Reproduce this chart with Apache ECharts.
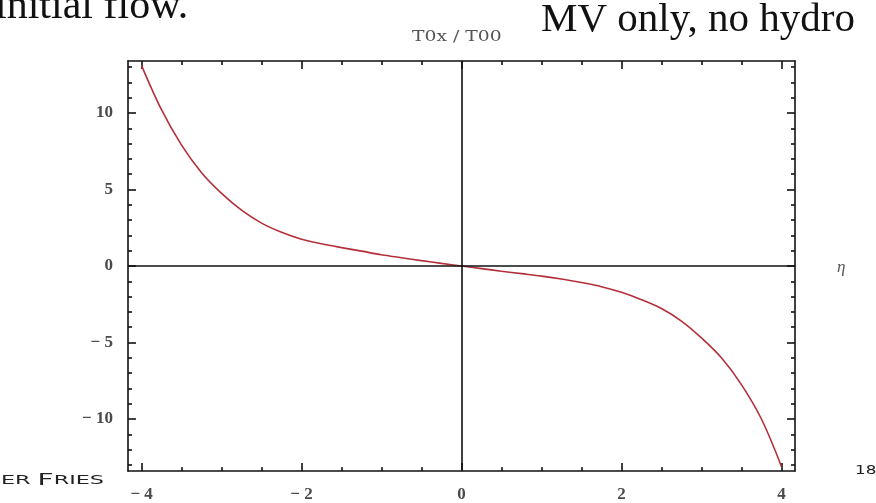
<!DOCTYPE html>
<html>
<head>
<meta charset="utf-8">
<script src="https://cdn.jsdelivr.net/npm/echarts@6/dist/echarts.min.js"></script>
<style>
html,body{margin:0;padding:0;background:#fff;}
#c{width:876px;height:503px;}
</style>
</head>
<body>
<div id="c"></div>
<script>
// Data
var eta = [-4,-3.75,-3.5,-3.25,-3,-2.75,-2.5,-2.25,-2,-1.75,-1.5,-1.25,-1,-0.75,-0.5,-0.25,0,
           0.25,0.5,0.75,1,1.25,1.5,1.75,2,2.25,2.5,2.75,3,3.25,3.5,3.75,4];
var ratio = [13.1,10.2,7.9,6.1,4.75,3.65,2.8,2.2,1.75,1.45,1.2,0.97,0.73,0.54,0.35,0.17,0,
             -0.17,-0.34,-0.5,-0.66,-0.85,-1.08,-1.35,-1.72,-2.2,-2.78,-3.6,-4.7,-6.0,-7.75,-10.0,-13.1];
var xMajorTicks = [-4,-2,0,2,4];
var xMinorTicks = [-3.5,-3,-2.5,-1.5,-1,-0.5,0.5,1,1.5,2.5,3,3.5];
var yMajorTicks = [-10,-5,0,5,10];
var yMinorTicks = [-13,-12,-11,-9,-8,-7,-6,-4,-3,-2,-1,1,2,3,4,6,7,8,9,11,12,13];

var XMIN = -4.17, XMAX = 4.17, YMIN = -13.4, YMAX = 13.4;
var serif = '"Liberation Serif", "DejaVu Serif", serif';
function fmt(v){ return v < 0 ? '\u2212 ' + Math.abs(v) : String(v); }

var pts = eta.map(function(e,i){ return [e, ratio[i]]; });

function xAxis(pos, ticks, len, showLabel, showLine){
  return {
    type:'value', position:pos, min:XMIN, max:XMAX,
    axisLine:{show:showLine, onZero:false, lineStyle:{color:'#111', width:1.6}},
    axisTick:{show:true, inside:true, length:len, customValues:ticks, lineStyle:{color:'#111', width:1.6}},
    axisLabel:{show:showLabel, customValues:ticks, formatter:fmt, margin:15,
      color:'#4a4a4a', fontFamily:serif, fontSize:17, fontWeight:'bold'},
    splitLine:{show:false}
  };
}
function yAxis(pos, ticks, len, showLabel, showLine){
  return {
    type:'value', position:pos, min:YMIN, max:YMAX,
    axisLine:{show:showLine, onZero:false, lineStyle:{color:'#111', width:1.6}},
    axisTick:{show:true, inside:true, length:len, customValues:ticks, lineStyle:{color:'#111', width:1.6}},
    axisLabel:{show:showLabel, customValues:ticks, formatter:fmt, margin:15,
      color:'#4a4a4a', fontFamily:serif, fontSize:17, fontWeight:'bold'},
    splitLine:{show:false}
  };
}

var chart = echarts.init(document.getElementById('c'), null, {renderer:'canvas'});
chart.setOption({
  animation:false,
  backgroundColor:'#fff',
  grid:{left:128, right:81, top:61, bottom:30, containLabel:false},
  xAxis:[
    xAxis('bottom', xMajorTicks, 8, true, true),
    xAxis('bottom', xMinorTicks, 4, false, false),
    xAxis('top', xMajorTicks, 8, false, true),
    xAxis('top', xMinorTicks, 4, false, false)
  ],
  yAxis:[
    yAxis('left', yMajorTicks, 8, true, true),
    yAxis('left', yMinorTicks, 4, false, false),
    yAxis('right', yMajorTicks, 8, false, true),
    yAxis('right', yMinorTicks, 4, false, false)
  ],
  series:[{
    type:'line', xAxisIndex:0, yAxisIndex:0, data:pts, smooth:0.35,
    showSymbol:false, symbol:'none',
    lineStyle:{color:'#b3303a', width:1.6},
    markLine:{
      silent:true, symbol:'none', animation:false,
      label:{show:false},
      lineStyle:{color:'#111', width:1.6, type:'solid'},
      data:[{xAxis:0},{yAxis:0}]
    },
    z:3
  }],
  graphic:[
    {type:'text', left:-5, top:-14, style:{text:'initial flow.', font:'42px ' + serif, fill:'#111'}},
    {type:'text', left:541, top:0, style:{text:'MV only, no hydro', font:'41px ' + serif, fill:'#111'}},
    {type:'text', x:412, y:37, scaleX:1.25, style:{text:'T0x / T00', font:'15px "DejaVu Serif", serif', fill:'#555', align:'left', verticalAlign:'middle'}},
    {type:'text', left:837, top:259, style:{text:'\u03b7', font:'italic 17px ' + serif, fill:'#555'}},
    {type:'text', x:104, y:481, scaleX:1.86, style:{
      rich:{s:{fontSize:12, fontFamily:'"DejaVu Sans", sans-serif', fill:'#222'},
            b:{fontSize:15, fontFamily:'"DejaVu Sans", sans-serif', fill:'#222'}},
      text:'{b|R}{s|AINER }{b|F}{s|RIES}', fill:'#222', align:'right', verticalAlign:'middle'}},
    {type:'text', x:855, y:471, scaleX:1.4, style:{text:'18', font:'12px "DejaVu Sans", sans-serif', fill:'#222', align:'left', verticalAlign:'middle'}}
  ]
});
</script>
</body>
</html>
